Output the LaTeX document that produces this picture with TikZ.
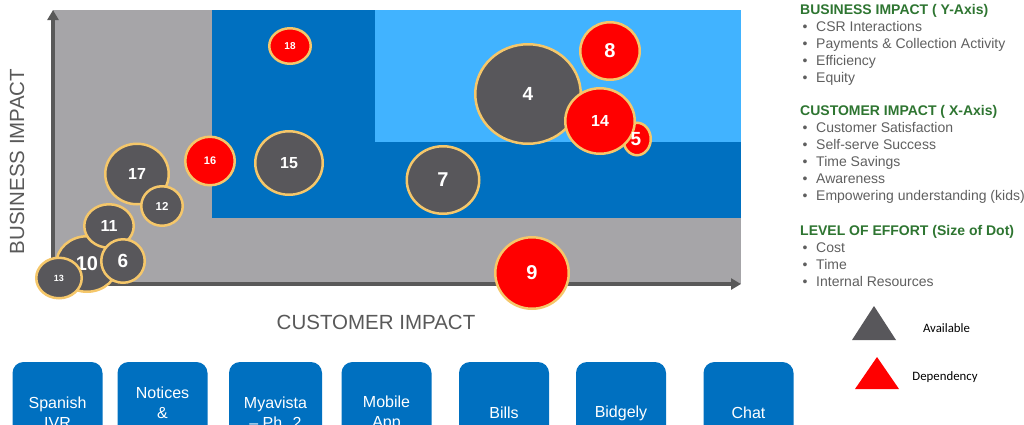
\documentclass[tikz,border=0pt]{standalone}
\usepackage{fontspec}
\setmainfont{Liberation Sans}
\newfontfamily\calibri{Carlito}
\usepackage{xcolor}
\usetikzlibrary{shapes.geometric,arrows.meta}
\definecolor{plotgray}{HTML}{A6A5A8}
\definecolor{zoneblue}{HTML}{0070C0}
\definecolor{skyblue}{HTML}{41B3FF}
\definecolor{slate}{HTML}{58575B}
\definecolor{ring}{HTML}{F5C76A}
\definecolor{hot}{HTML}{FF0000}
\definecolor{axisgray}{HTML}{595959}
\definecolor{headgreen}{HTML}{2E7531}
\definecolor{bodygray}{HTML}{5F5F5F}
\tikzset{
  bubble/.style={ellipse, draw=ring, line width=2.5pt, inner sep=0pt, text=white},
  availDot/.style={bubble, fill=slate},
  depDot/.style={bubble, fill=hot},
  sz/.style 2 args={minimum width=#1pt, minimum height=#2pt},
  num/.style={font=\fontsize{#1}{#1}\selectfont\bfseries},
  axisLine/.style={draw=axisgray, line width=3.5pt, -{Triangle[length=10pt,width=11pt]}},
  axisLbl/.style={text=axisgray, font=\fontsize{20.5}{24}\selectfont, inner sep=0pt},
  keyBlock/.style={anchor=north west, align=left, inner sep=0pt, text=bodygray, font=\fontsize{14}{17}\selectfont},
  keyLbl/.style={text=black, font=\calibri\fontsize{12.8}{15}\selectfont, inner sep=0pt},
  tile/.style={rounded corners=11pt, fill=zoneblue, text=white, minimum width=90pt, align=center, inner sep=0pt, font=\fontsize{16}{20}\selectfont},
}
\newcommand{\KeyHead}[1]{\textcolor{headgreen}{\bfseries #1}}
\newcommand{\KeyItem}[1]{\hspace*{2.5pt}\makebox[13.5pt][l]{\textbullet}#1}

\begin{document}
\begin{tikzpicture}[x=1pt,y=-1pt]
  \useasboundingbox (0,0) rectangle (1024,424);
  \clip (0,0) rectangle (1024,424);

  % zones
  \fill[plotgray] (53,10) rectangle (741,284);
  \fill[zoneblue] (212,10) rectangle (741,218);
  \fill[skyblue] (375,10) rectangle (741,142);

  % axes
  \coordinate (origin) at (53,284);
  \coordinate (yTop) at (53,10);
  \coordinate (xEnd) at (741,284);
  \draw[axisLine] (origin) -- (yTop);
  \draw[axisLine] (origin) -- (xEnd);
  \node[axisLbl, rotate=90] (yLbl) at (17,161.5) {BUSINESS IMPACT};
  \node[axisLbl] (xLbl) at (376,322) {CUSTOMER IMPACT};

  % bubbles
  \node[availDot, sz={61.5}{55.5}, num=20] (b10) at (87,264) {10};
  \node[availDot, sz={49.5}{43.5}, num=16] (b11) at (109,226) {11};
  \node[availDot, sz={43.5}{43.5}, num=19] (b6) at (123,261) {6};
  \node[availDot, sz={45.5}{40.5}, num=9] (b13) at (59,278) {13};
  \node[availDot, sz={63.5}{60.5}, num=16] (b17) at (137,174) {17};
  \node[availDot, sz={41.5}{39.5}, num=11.5] (b12) at (162,206) {12};
  \node[depDot, sz={49.5}{48.5}, num=11] (b16) at (210,161) {16};
  \node[availDot, sz={67.5}{63.5}, num=16] (b15) at (289,163) {15};
  \node[depDot, sz={41.5}{35.5}, num=10] (b18) at (290,46) {18};
  \node[availDot, sz={72.5}{67.5}, num=20] (b7) at (443,180) {7};
  \node[availDot, sz={105.5}{99.5}, num=19] (b4) at (528,94) {4};
  \node[depDot, sz={59.5}{57.5}, num=20] (b8) at (610,51) {8};
  \node[depDot, sz={27.5}{32.5}] (b5) at (637,139) {};
  \node[depDot, sz={69.5}{65.5}, num=16] (b14) at (600,121) {14};
  \node[num=19, text=white, inner sep=0pt] (b5lbl) at (636,139) {5};
  \node[depDot, sz={73.5}{71.5}, num=20] (b9) at (532,273) {9};

  % key
  \node[keyBlock] (keyY) at (800,4) {\KeyHead{BUSINESS IMPACT ( Y-Axis)}\\
    \KeyItem{CSR Interactions}\\
    \KeyItem{Payments \& Collection Activity}\\
    \KeyItem{Efficiency}\\
    \KeyItem{Equity}};
  \node[keyBlock] (keyX) at (800,105) {\KeyHead{CUSTOMER IMPACT ( X-Axis)}\\
    \KeyItem{Customer Satisfaction}\\
    \KeyItem{Self-serve Success}\\
    \KeyItem{Time Savings}\\
    \KeyItem{Awareness}\\
    \KeyItem{Empowering understanding (kids)}};
  \node[keyBlock] (keyE) at (800,225) {\KeyHead{LEVEL OF EFFORT (Size of Dot)}\\
    \KeyItem{Cost}\\
    \KeyItem{Time}\\
    \KeyItem{Internal Resources}};

  \fill[slate] (852,340) -- (874,306) -- (896,340) -- cycle;
  \node[keyLbl] (availLbl) at (946.5,328) {Available};
  \fill[hot] (855,389) -- (877,357) -- (899,389) -- cycle;
  \node[keyLbl] (depLbl) at (945,377) {Dependency};

  % project tiles
  \node[tile, minimum height=102pt] (spanish) at (57.5,413) {Spanish\\IVR};
  \node[tile, minimum height=82pt] (notices) at (162.5,403) {Notices\\\&};
  \node[tile, minimum height=102pt, minimum width=93pt] (myavista) at (275.5,413) {Myavista\\– Ph. 2};
  \node[tile, minimum height=102pt] (mobile) at (386.5,413) {Mobile\\App};
  \node[tile, minimum height=102pt] (bills) at (504,413) {Bills};
  \node[tile, minimum height=102pt] (bidgely) at (621,413) {Bidgely};
  \node[tile, minimum height=102pt] (chat) at (748.5,413) {Chat};
\end{tikzpicture}
\end{document}
